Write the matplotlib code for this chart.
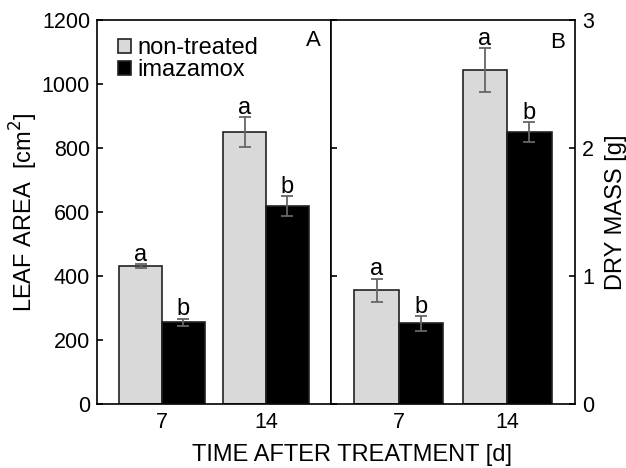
import matplotlib
matplotlib.use('Agg')
import matplotlib.pyplot as plt
import numpy as np

plt.rcParams['font.family'] = ['Liberation Sans', 'DejaVu Sans']

days = ['7', '14']
series = ['non-treated', 'imazamox']

# leaf area [cm2]
area_ctrl = [431, 850]
area_ctrl_err = [6, 48]
area_imaz = [256, 618]
area_imaz_err = [11, 31]

# dry mass [g]
mass_ctrl = [0.89, 2.61]
mass_ctrl_err = [0.09, 0.17]
mass_imaz = [0.63, 2.125]
mass_imaz_err = [0.06, 0.075]

letters_ctrl = ['a', 'a']
letters_imaz = ['b', 'b']

fig = plt.figure(figsize=(6.26, 4.68), dpi=100)
axA = fig.add_axes([97/626, 1 - 404/468, (331-97)/626, 384/468])
axB = fig.add_axes([331/626, 1 - 404/468, (575-331)/626, 384/468])

w = 0.41
x = np.arange(len(days))
fs_tick = 15.5
fs_lab = 17


def panel(ax, ctrl, ctrl_err, imaz, imaz_err, pad):
    ax.bar(x - w/2, ctrl, w, color='#d9d9d9', edgecolor='#222222', lw=1.2,
           label=series[0], zorder=2)
    ax.bar(x + w/2, imaz, w, color='black', edgecolor='#222222', lw=1.2,
           label=series[1], zorder=2)
    ax.errorbar(x - w/2, ctrl, yerr=ctrl_err, fmt='none', ecolor='#666666',
                elinewidth=1.3, capsize=4, capthick=1.3, zorder=3)
    ax.errorbar(x + w/2, imaz, yerr=imaz_err, fmt='none', ecolor='#666666',
                elinewidth=1.3, capsize=4, capthick=1.3, zorder=3)
    for i in range(len(days)):
        ax.text(x[i] - w/2, ctrl[i] + ctrl_err[i] + pad, letters_ctrl[i],
                ha='center', va='bottom', fontsize=fs_lab)
        ax.text(x[i] + w/2, imaz[i] + imaz_err[i] + pad, letters_imaz[i],
                ha='center', va='bottom', fontsize=fs_lab)
    ax.set_xlim(-0.625, 1.625)
    ax.set_xticks(x)
    ax.set_xticklabels(days, fontsize=fs_tick)
    ax.tick_params(axis='x', length=0, pad=6)
    for s in ax.spines.values():
        s.set_linewidth(1.2)


panel(axA, area_ctrl, area_ctrl_err, area_imaz, area_imaz_err, -6)
axA.set_ylim(0, 1200)
axA.set_yticks(np.arange(0, 1201, 200))
axA.tick_params(axis='y', direction='in', length=4, labelsize=fs_tick, width=1.2, pad=5)
axA.set_ylabel('LEAF AREA  [cm$^2$]', fontsize=fs_lab, labelpad=1)
axA.text(0.955, 0.975, 'A', transform=axA.transAxes, ha='right', va='top', fontsize=16)
axA.legend(loc='upper left', frameon=False, fontsize=fs_lab, handlelength=0.55,
           handleheight=0.55, handletextpad=0.25, labelspacing=0.0,
           borderaxespad=0.0, bbox_to_anchor=(0.05, 0.98))

panel(axB, mass_ctrl, mass_ctrl_err, mass_imaz, mass_imaz_err, -0.015)
axB.set_ylim(0, 3)
axB.set_yticks([0, 1, 2, 3])
axB.yaxis.tick_right()
axB.yaxis.set_label_position('right')
axB.tick_params(axis='y', direction='in', length=4, labelsize=fs_tick, width=1.2,
                left=True, right=True, pad=5)
axB.set_ylabel('DRY MASS [g]', fontsize=fs_lab, labelpad=8)
axB.text(0.96, 0.97, 'B', transform=axB.transAxes, ha='right', va='top', fontsize=16)

fig.text(352/626, 1 - 455/468, 'TIME AFTER TREATMENT [d]', ha='center',
         va='center', fontsize=fs_lab)

fig.savefig('out.png', dpi=100)
